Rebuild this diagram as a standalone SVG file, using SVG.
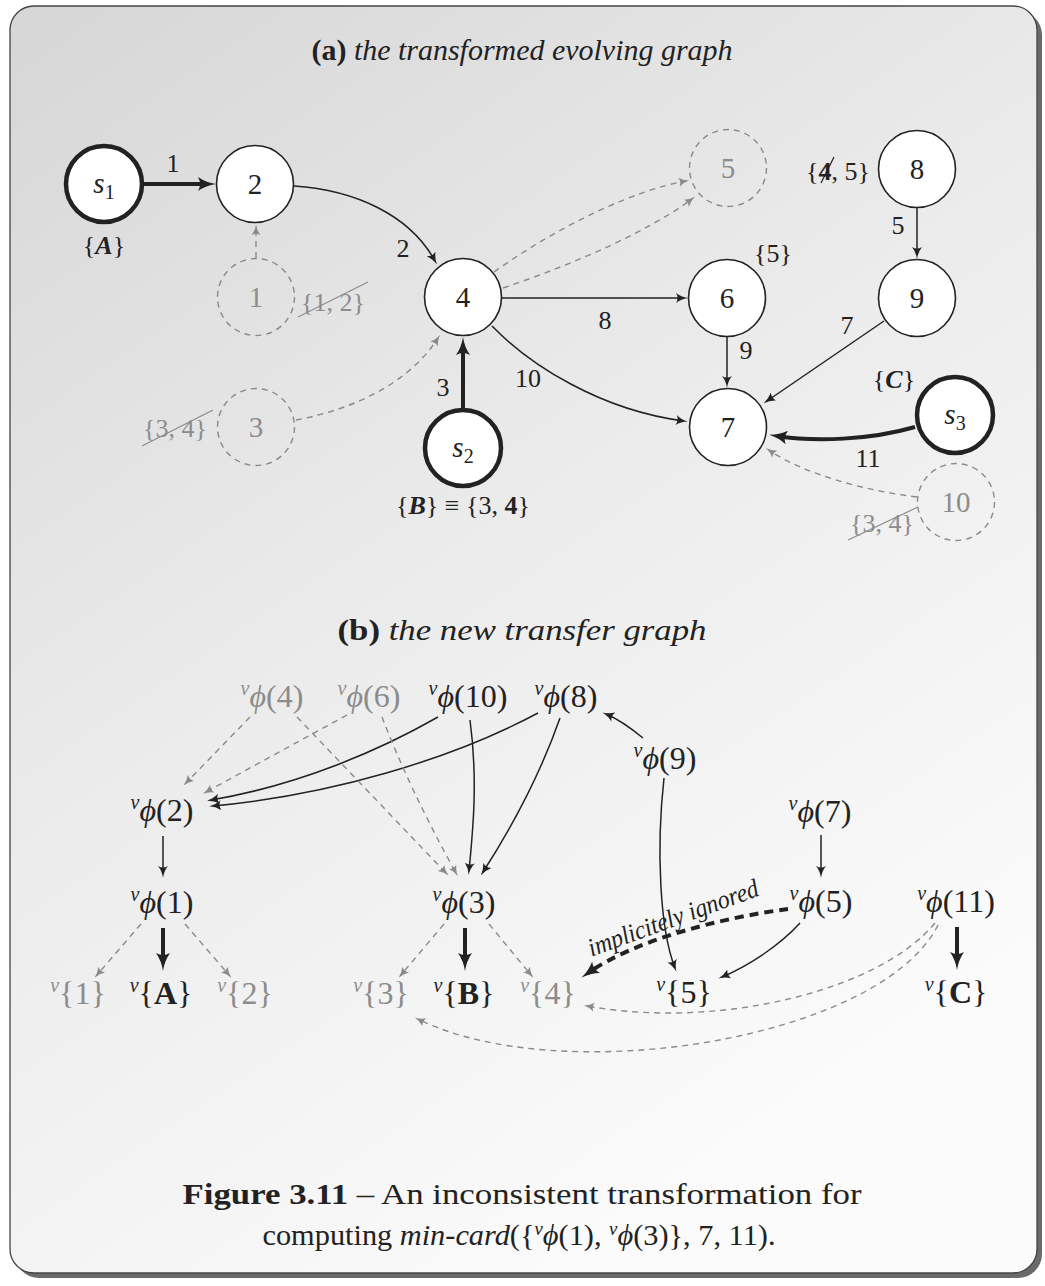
<svg xmlns="http://www.w3.org/2000/svg" width="1045" height="1286" viewBox="0 0 1045 1286">
<defs>
<linearGradient id="bg" x1="0" y1="0" x2="0.55" y2="1">
<stop offset="0" stop-color="#d6d6d6"/>
<stop offset="0.5" stop-color="#ebebeb"/>
<stop offset="1" stop-color="#fbfbfb"/>
</linearGradient>
<marker id="a" viewBox="0 0 12 10" refX="8" refY="5" markerWidth="12" markerHeight="10" markerUnits="userSpaceOnUse" orient="auto">
<path d="M0,0 Q5,4 12,5 Q5,6 0,10 Q3,5 0,0z" fill="#222"/>
</marker>
<marker id="ag" viewBox="0 0 12 10" refX="8" refY="5" markerWidth="11" markerHeight="9" markerUnits="userSpaceOnUse" orient="auto">
<path d="M0,0 Q5,4 12,5 Q5,6 0,10 Q3,5 0,0z" fill="#8a8a8a"/>
</marker>
<marker id="ab" viewBox="0 0 18 14" refX="10" refY="7" markerWidth="18" markerHeight="14" markerUnits="userSpaceOnUse" orient="auto">
<path d="M0,0 Q8,5.5 18,7 Q8,8.5 0,14 Q4,7 0,0z" fill="#222"/>
</marker>
<style>
.n{fill:#fff;stroke:#222;stroke-width:1.6}
.s{fill:#fff;stroke:#222;stroke-width:4.5}
.dn{fill:none;stroke:#8a8a8a;stroke-width:1.4;stroke-dasharray:6 5}
.t{font-family:"Liberation Serif","DejaVu Serif",serif;font-size:29px;fill:#222;text-anchor:middle}
.l{font-family:"Liberation Serif","DejaVu Serif",serif;font-size:26px;fill:#222;text-anchor:middle}
.p{font-family:"Liberation Serif","DejaVu Serif",serif;font-size:32px;fill:#222;text-anchor:middle}
.gr{fill:#8c8c8c}
.i{font-style:italic}
.b{font-weight:bold}
.v{font-size:20px;font-style:italic}
.e{fill:none;stroke:#222;stroke-width:1.5;marker-end:url(#a)}
.et{fill:none;stroke:#222;stroke-width:4;marker-end:url(#ab)}
.d{fill:none;stroke:#8a8a8a;stroke-width:1.4;stroke-dasharray:6 5;marker-end:url(#ag)}
.dt{fill:none;stroke:#222;stroke-width:4;stroke-dasharray:9 6;marker-end:url(#ab)}
.st{stroke:#8c8c8c;stroke-width:1.2}
</style>
</defs>

<g id="frame">
<rect x="15" y="11" width="1027" height="1267" rx="24" fill="#6a6a6a"/>
<rect x="10" y="6" width="1027" height="1267" rx="24" fill="url(#bg)" stroke="#444" stroke-width="1.3"/>
</g>

<g id="titles">
<text class="t" x="522" y="60" font-size="26" textLength="421" lengthAdjust="spacingAndGlyphs"><tspan class="b">(a)</tspan><tspan class="i"> the transformed evolving graph</tspan></text>
<text class="t" x="522" y="640" font-size="26" textLength="369" lengthAdjust="spacingAndGlyphs"><tspan class="b">(b)</tspan><tspan class="i"> the new transfer graph</tspan></text>
</g>

<g id="connectors">
<path class="et" d="M142,184 L208,184"/>
<path class="e" d="M294,186 C355,190 410,215 435,261"/>
<path class="e" d="M502,298 L684,298"/>
<path class="d" d="M494,272 C560,225 635,190 686,181"/>
<path class="d" d="M503,288 C580,262 650,230 692,199"/>
<path class="e" d="M917,208 L917,255"/>
<path class="e" d="M727,337 L727,384"/>
<path class="e" d="M884,321 L767,401"/>
<path class="e" d="M492,326 C530,365 600,410 684,421"/>
<path class="et" d="M915,427 C870,440 815,442 777,436"/>
<path class="d" d="M917,497 C860,490 800,472 769,450"/>
<path class="d" d="M256,258 L256,228"/>
<path class="d" d="M296,420 C350,410 408,385 438,338"/>
<path class="et" d="M463,408 L463,345"/>
<path class="d" d="M250,717 L186,783"/>
<path class="d" d="M347,715 L206,792"/>
<path class="e" d="M438,717 C380,750 300,785 211,800"/>
<path class="e" d="M538,713 C450,760 330,795 213,806"/>
<path class="d" d="M297,717 L446,873"/>
<path class="d" d="M382,717 Q410,790 456,873"/>
<path class="e" d="M470,720 C478,780 473,830 469,871"/>
<path class="e" d="M560,718 C540,775 510,830 483,872"/>
<path class="e" d="M643,738 C632,729 618,719 606,714"/>
<path class="e" d="M664,778 C656,850 660,930 675,968"/>
<path class="e" d="M163,836 L163,874"/>
<path class="e" d="M821,835 L821,874"/>
<path class="et" d="M163,928 L163,963"/>
<path class="d" d="M141,924 L97,975"/>
<path class="d" d="M185,924 L229,975"/>
<path class="et" d="M465,928 L465,963"/>
<path class="d" d="M444,924 L401,975"/>
<path class="d" d="M489,924 L531,975"/>
<path class="et" d="M957,927 L957,962"/>
<path class="e" d="M800,923 C780,945 750,965 722,977"/>
<path class="dt" d="M788,909 C720,918 635,940 588,973"/>
<path class="d" d="M935,923 C880,990 720,1030 587,1006"/>
<path class="d" d="M938,925 C880,1040 560,1090 418,1019"/>
</g>

<g id="edge-labels">
<text class="l" x="173" y="172">1</text>
<text class="l" x="403" y="257">2</text>
<text class="l" x="605" y="329">8</text>
<text class="l" x="898" y="234">5</text>
<text class="l" x="746" y="359">9</text>
<text class="l" x="847" y="334">7</text>
<text class="l" x="528" y="387">10</text>
<text class="l" x="443" y="396">3</text>
<text class="l" x="868" y="467">11</text>
<text class="l" x="676" y="926" font-size="17" transform="rotate(-20 676 926)" textLength="180" lengthAdjust="spacingAndGlyphs"><tspan class="i">implicitely ignored</tspan></text>
</g>

<g id="node-s1"><circle class="s" cx="104" cy="184" r="38"/><text class="t" x="104" y="193"><tspan class="i">s</tspan><tspan font-size="20" dy="6">1</tspan></text>
<text class="l" x="104" y="254">{<tspan class="b i">A</tspan>}</text></g>
<g id="node-2"><circle class="n" cx="255" cy="184" r="38.5"/><text class="t" x="255" y="194">2</text></g>
<g id="node-1"><circle class="dn" cx="256" cy="297" r="38.5"/><text class="t gr" x="256" y="307">1</text>
<text class="l gr" x="333" y="311">{1, 2}</text><line class="st" x1="298" y1="317" x2="368" y2="282"/></g>
<g id="node-4"><circle class="n" cx="463" cy="297" r="38.5"/><text class="t" x="463" y="307">4</text></g>
<g id="node-5"><circle class="dn" cx="728" cy="168" r="38.5"/><text class="t gr" x="728" y="178">5</text></g>
<g id="node-6"><circle class="n" cx="727" cy="298" r="38.5"/><text class="t" x="727" y="308">6</text>
<text class="l" x="773" y="262">{5}</text></g>
<g id="node-8"><circle class="n" cx="917" cy="169" r="38.5"/><text class="t" x="917" y="179">8</text>
<text class="l" x="838" y="180">{<tspan class="b">4</tspan>, 5}</text><line stroke="#222" stroke-width="1.3" x1="821" y1="183" x2="834" y2="157"/></g>
<g id="node-9"><circle class="n" cx="917" cy="298" r="38.5"/><text class="t" x="917" y="308">9</text></g>
<g id="node-7"><circle class="n" cx="728" cy="427" r="38.5"/><text class="t" x="728" y="437">7</text></g>
<g id="node-s3"><circle class="s" cx="955" cy="415" r="38"/><text class="t" x="955" y="424"><tspan class="i">s</tspan><tspan font-size="20" dy="6">3</tspan></text>
<text class="l" x="894" y="388">{<tspan class="b i">C</tspan>}</text></g>
<g id="node-10"><circle class="dn" cx="956" cy="502" r="38.5"/><text class="t gr" x="956" y="512">10</text>
<text class="l gr" x="882" y="532">{3, 4}</text><line class="st" x1="848" y1="540" x2="918" y2="507"/></g>
<g id="node-3"><circle class="dn" cx="256" cy="427" r="38.5"/><text class="t gr" x="256" y="437">3</text>
<text class="l gr" x="175" y="437">{3, 4}</text><line class="st" x1="142" y1="446" x2="213" y2="410"/></g>
<g id="node-s2"><circle class="s" cx="463" cy="448" r="38"/><text class="t" x="463" y="457"><tspan class="i">s</tspan><tspan font-size="20" dy="6">2</tspan></text>
<text class="l" x="463" y="514">{<tspan class="b i">B</tspan>} ≡ {3, <tspan class="b">4</tspan>}</text></g>

<g id="vphi-4"><text class="p gr" x="272" y="707"><tspan class="v" dy="-12">v</tspan><tspan class="i" dy="12">ϕ</tspan>(4)</text></g>
<g id="vphi-6"><text class="p gr" x="369" y="707"><tspan class="v" dy="-12">v</tspan><tspan class="i" dy="12">ϕ</tspan>(6)</text></g>
<g id="vphi-10"><text class="p" x="468" y="707"><tspan class="v" dy="-12">v</tspan><tspan class="i" dy="12">ϕ</tspan>(10)</text></g>
<g id="vphi-8"><text class="p" x="566" y="707"><tspan class="v" dy="-12">v</tspan><tspan class="i" dy="12">ϕ</tspan>(8)</text></g>
<g id="vphi-9"><text class="p" x="665" y="769"><tspan class="v" dy="-12">v</tspan><tspan class="i" dy="12">ϕ</tspan>(9)</text></g>
<g id="vphi-2"><text class="p" x="162" y="821"><tspan class="v" dy="-12">v</tspan><tspan class="i" dy="12">ϕ</tspan>(2)</text></g>
<g id="vphi-7"><text class="p" x="820" y="822"><tspan class="v" dy="-12">v</tspan><tspan class="i" dy="12">ϕ</tspan>(7)</text></g>
<g id="vphi-1"><text class="p" x="162" y="913"><tspan class="v" dy="-12">v</tspan><tspan class="i" dy="12">ϕ</tspan>(1)</text></g>
<g id="vphi-3"><text class="p" x="464" y="913"><tspan class="v" dy="-12">v</tspan><tspan class="i" dy="12">ϕ</tspan>(3)</text></g>
<g id="vphi-5"><text class="p" x="821" y="912"><tspan class="v" dy="-12">v</tspan><tspan class="i" dy="12">ϕ</tspan>(5)</text></g>
<g id="vphi-11"><text class="p" x="956" y="912"><tspan class="v" dy="-12">v</tspan><tspan class="i" dy="12">ϕ</tspan>(11)</text></g>
<g id="vset-1"><text class="p gr" x="78" y="1004"><tspan class="v" dy="-12">v</tspan><tspan dy="12">{1}</tspan></text></g>
<g id="vset-A"><text class="p" x="161" y="1004"><tspan class="v" dy="-12">v</tspan><tspan dy="12">{</tspan><tspan class="b">A</tspan>}</text></g>
<g id="vset-2"><text class="p gr" x="245" y="1004"><tspan class="v" dy="-12">v</tspan><tspan dy="12">{2}</tspan></text></g>
<g id="vset-3"><text class="p gr" x="381" y="1004"><tspan class="v" dy="-12">v</tspan><tspan dy="12">{3}</tspan></text></g>
<g id="vset-B"><text class="p" x="464" y="1004"><tspan class="v" dy="-12">v</tspan><tspan dy="12">{</tspan><tspan class="b">B</tspan>}</text></g>
<g id="vset-4"><text class="p gr" x="548" y="1004"><tspan class="v" dy="-12">v</tspan><tspan dy="12">{4}</tspan></text></g>
<g id="vset-5"><text class="p" x="684" y="1003"><tspan class="v" dy="-12">v</tspan><tspan dy="12">{5}</tspan></text></g>
<g id="vset-C"><text class="p" x="956" y="1003"><tspan class="v" dy="-12">v</tspan><tspan dy="12">{</tspan><tspan class="b">C</tspan>}</text></g>

<g id="caption">
<text class="t" x="522" y="1204" font-size="28" textLength="679" lengthAdjust="spacingAndGlyphs"><tspan class="b">Figure 3.11</tspan> – An inconsistent transformation for</text>
<text class="t" x="519" y="1245" font-size="28" textLength="513" lengthAdjust="spacingAndGlyphs">computing <tspan class="i">min-card</tspan>({<tspan font-size="18" class="i" dy="-10">v</tspan><tspan class="i" dy="10">ϕ</tspan>(1), <tspan font-size="18" class="i" dy="-10">v</tspan><tspan class="i" dy="10">ϕ</tspan>(3)}, 7, 11).</text>
</g>
</svg>
